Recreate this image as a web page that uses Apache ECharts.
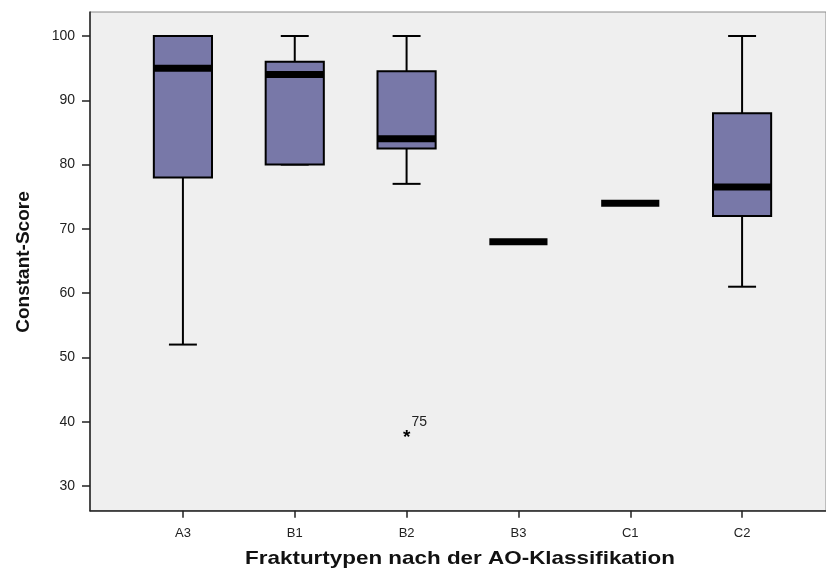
<!DOCTYPE html>
<html>
<head>
<meta charset="utf-8">
<script src="https://cdn.jsdelivr.net/npm/echarts@6/dist/echarts.min.js"></script>
<style>html,body{margin:0;padding:0;background:#fff;}#c{width:826px;height:573px;}</style>
</head>
<body>
<div id="c"></div>
<script>
// ---- data ----
const categories = ['A3', 'B1', 'B2', 'B3', 'C1', 'C2'];
const lowWhisker = [52, 80, 77, 68, 74, 61];
const q1 = [78, 80, 82.5, 68, 74, 72];
const median = [95, 94, 84, 68, 74, 76.5];
const q3 = [100, 96, 94.5, 68, 74, 88];
const highWhisker = [100, 100, 100, 68, 74, 100];
const outlierCats = ['B2'];
const outlierValues = [38];
const outlierLabels = ['75'];
const yTicks = [30, 40, 50, 60, 70, 80, 90, 100];
const xTitle = 'Frakturtypen nach der AO-Klassifikation';
const yTitle = 'Constant-Score';

const FONT = 'Liberation Sans, Arial, sans-serif';
const boxData = categories.map((c, i) => [i, lowWhisker[i], q1[i], median[i], q3[i], highWhisker[i]]);
const outData = outlierCats.map((c, i) => [categories.indexOf(c), outlierValues[i], outlierLabels[i]]);

const chart = echarts.init(document.getElementById('c'), null, {renderer: 'canvas'});
chart.setOption({
  animation: false,
  backgroundColor: '#ffffff',
  grid: [
    {left: 90, right: -5, top: 12, bottom: 62.3, show: true, backgroundColor: '#efefef', borderColor: '#8a8a8a', borderWidth: 1},
    {left: 127, right: 28, top: 36, bottom: 87}
  ],
  graphic: [
    {type: 'text', x: 460, y: 559, scaleX: 1.18, style: {text: xTitle, fontFamily: FONT, fontSize: 19, fontWeight: 'bold', fill: '#111', align: 'center', verticalAlign: 'middle'}},
    {type: 'text', x: 24, y: 262, rotation: Math.PI / 2, style: {text: yTitle, fontFamily: FONT, fontSize: 19, fontWeight: 'bold', fill: '#111', align: 'center', verticalAlign: 'middle'}}
  ],
  xAxis: [
    {gridIndex: 0, type: 'value', min: 0, max: 1, axisLine: {show: true, lineStyle: {color: '#222', width: 1.5}},
     axisTick: {show: false}, axisLabel: {show: false}, splitLine: {show: false}},
    {gridIndex: 1, type: 'category', data: categories, offset: 24.7, boundaryGap: true,
     axisLine: {show: false}, axisTick: {show: true, alignWithLabel: true, length: 7, lineStyle: {color: '#222', width: 1.5}},
     axisLabel: {margin: 16, fontFamily: FONT, fontSize: 13, color: '#222'}, splitLine: {show: false}}
  ],
  yAxis: [
    {gridIndex: 0, type: 'value', min: 0, max: 1, axisLine: {show: true, lineStyle: {color: '#222', width: 1.5}},
     axisTick: {show: false}, axisLabel: {show: false}, splitLine: {show: false}},
    {gridIndex: 1, type: 'value', min: yTicks[0], max: yTicks[yTicks.length - 1], interval: 10, offset: 37,
     axisLine: {show: false}, axisTick: {show: true, length: 8, lineStyle: {color: '#222', width: 1.5}},
     axisLabel: {margin: 15, fontFamily: FONT, fontSize: 14, color: '#222'}, splitLine: {show: false}}
  ],
  series: [
    {
      type: 'custom', xAxisIndex: 1, yAxisIndex: 1, data: boxData, clip: false,
      renderItem: function (params, api) {
        const idx = api.value(0);
        const band = api.size([1, 0])[0];
        const x = api.coord([idx, 0])[0];
        const bw = band * 0.52, cw = band * 0.25;
        const yLow = api.coord([idx, api.value(1)])[1];
        const yQ1 = api.coord([idx, api.value(2)])[1];
        const yMed = api.coord([idx, api.value(3)])[1];
        const yQ3 = api.coord([idx, api.value(4)])[1];
        const yHigh = api.coord([idx, api.value(5)])[1];
        const ls = {stroke: '#000', lineWidth: 2};
        const ch = [];
        if (api.value(5) > api.value(4)) ch.push({type: 'line', shape: {x1: x, y1: yQ3, x2: x, y2: yHigh}, style: ls});
        if (api.value(1) < api.value(2)) ch.push({type: 'line', shape: {x1: x, y1: yQ1, x2: x, y2: yLow}, style: ls});
        if (api.value(5) > api.value(1)) {
          ch.push({type: 'line', shape: {x1: x - cw / 2, y1: yHigh, x2: x + cw / 2, y2: yHigh}, style: ls});
          ch.push({type: 'line', shape: {x1: x - cw / 2, y1: yLow, x2: x + cw / 2, y2: yLow}, style: ls});
        }
        if (api.value(4) > api.value(2)) {
          ch.push({type: 'rect', shape: {x: x - bw / 2, y: yQ3, width: bw, height: yQ1 - yQ3},
                   style: {fill: '#7878a8', stroke: '#000', lineWidth: 2}});
        }
        ch.push({type: 'line', shape: {x1: x - bw / 2, y1: yMed, x2: x + bw / 2, y2: yMed}, style: {stroke: '#000', lineWidth: 7}});
        return {type: 'group', children: ch};
      }
    },
    {
      type: 'custom', xAxisIndex: 1, yAxisIndex: 1, data: outData, clip: false,
      renderItem: function (params, api) {
        const p = api.coord([api.value(0), api.value(1)]);
        return {type: 'group', children: [
          {type: 'text', style: {x: p[0], y: p[1] + 3, text: '*', fontFamily: FONT, fontSize: 19, fontWeight: 'bold', fill: '#000', align: 'center', verticalAlign: 'middle'}},
          {type: 'text', style: {x: p[0] + 5, y: p[1] - 12, text: String(outData[params.dataIndex][2]), fontFamily: FONT, fontSize: 14, fill: '#222', align: 'left', verticalAlign: 'middle'}}
        ]};
      }
    }
  ]
});
</script>
</body>
</html>
